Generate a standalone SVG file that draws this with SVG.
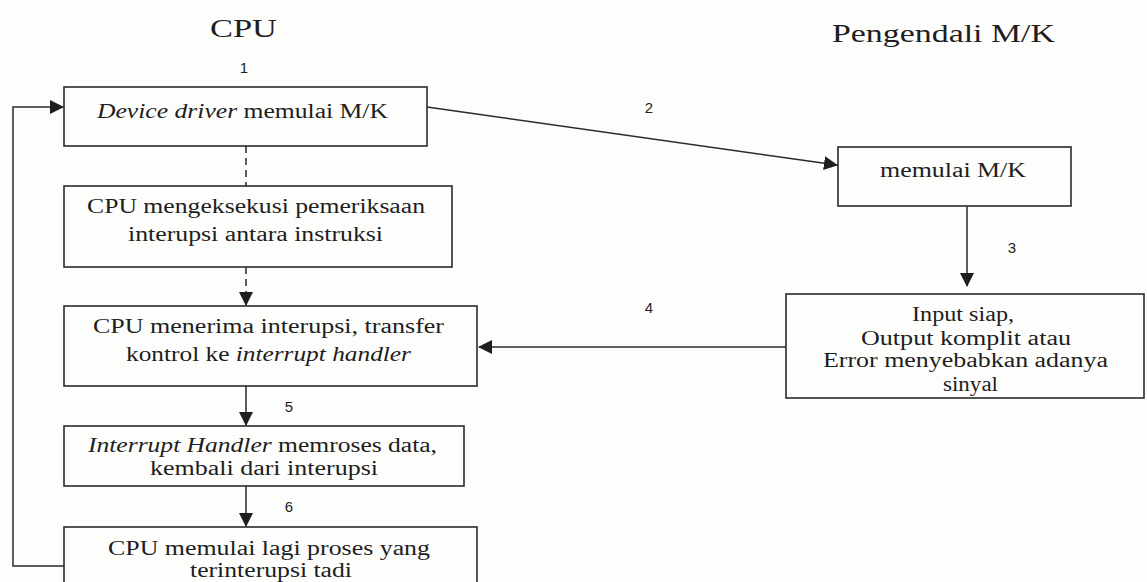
<svg xmlns="http://www.w3.org/2000/svg" width="1147" height="582" viewBox="0 0 1147 582">
<style>
.box{fill:none;stroke:#2a2a2a;stroke-width:1.6}
.ln{fill:none;stroke:#2a2a2a;stroke-width:1.5}
.dash{stroke-dasharray:7,5}
.t{font-family:"Liberation Serif","Times New Roman",serif;font-size:20px;fill:#1e1e1e}
.h{font-family:"Liberation Serif","Times New Roman",serif;font-size:25px;fill:#1e1e1e}
.n{font-family:"Liberation Sans",Arial,sans-serif;font-size:15px;fill:#1e1e1e}
.i{font-style:italic}
</style>
<defs>
<marker id="ah" markerWidth="14" markerHeight="14" viewBox="0 0 14 14" refX="13" refY="7" orient="auto" markerUnits="userSpaceOnUse">
<path d="M0,0 L14,7 L0,14 Z" fill="#1e1e1e"/>
</marker>
</defs>
<rect width="1147" height="582" fill="#fdfdfc"/>
<text class="h" x="210" y="37" textLength="67" lengthAdjust="spacingAndGlyphs">CPU</text>
<text class="h" x="832" y="42" textLength="223" lengthAdjust="spacingAndGlyphs">Pengendali M/K</text>
<g id="connectors">
<line class="ln dash" x1="246" y1="146" x2="246" y2="186"/>
<line class="ln dash" x1="246" y1="267" x2="246" y2="305" marker-end="url(#ah)"/>
<line class="ln" x1="246" y1="386" x2="246" y2="425" marker-end="url(#ah)"/>
<line class="ln" x1="246" y1="486" x2="246" y2="526" marker-end="url(#ah)"/>
<path class="ln" d="M64,566 H13 V107 H63" marker-end="url(#ah)"/>
<line class="ln" x1="427" y1="107" x2="837" y2="165" marker-end="url(#ah)"/>
<line class="ln" x1="967" y1="206" x2="967" y2="286" marker-end="url(#ah)"/>
<line class="ln" x1="786" y1="347" x2="479" y2="347" marker-end="url(#ah)"/>
<text class="n" x="244" y="73" text-anchor="middle">1</text>
<text class="n" x="649" y="113" text-anchor="middle">2</text>
<text class="n" x="1012" y="253" text-anchor="middle">3</text>
<text class="n" x="649" y="313" text-anchor="middle">4</text>
<text class="n" x="289" y="412" text-anchor="middle">5</text>
<text class="n" x="289" y="512" text-anchor="middle">6</text>
</g>
<g id="n1">
<rect class="box" x="64" y="87" width="363" height="59"/>
<text class="t" x="97" y="118" textLength="291" lengthAdjust="spacingAndGlyphs"><tspan class="i">Device driver</tspan> memulai M/K</text>
</g>
<g id="n2">
<rect class="box" x="64" y="186" width="388" height="81"/>
<text class="t" x="87" y="213" textLength="338" lengthAdjust="spacingAndGlyphs">CPU mengeksekusi pemeriksaan</text>
<text class="t" x="128" y="241" textLength="255" lengthAdjust="spacingAndGlyphs">interupsi antara instruksi</text>
</g>
<g id="n3">
<rect class="box" x="64" y="306" width="413" height="80"/>
<text class="t" x="93" y="333" textLength="351" lengthAdjust="spacingAndGlyphs">CPU menerima interupsi, transfer</text>
<text class="t" x="126" y="361" textLength="285" lengthAdjust="spacingAndGlyphs">kontrol ke <tspan class="i">interrupt handler</tspan></text>
</g>
<g id="n4">
<rect class="box" x="64" y="426" width="400" height="60"/>
<text class="t" x="88" y="452" textLength="349" lengthAdjust="spacingAndGlyphs"><tspan class="i">Interrupt Handler</tspan> memroses data,</text>
<text class="t" x="150" y="475" textLength="228" lengthAdjust="spacingAndGlyphs">kembali dari interupsi</text>
</g>
<g id="n5">
<rect class="box" x="64" y="527" width="413" height="70"/>
<text class="t" x="108" y="555" textLength="322" lengthAdjust="spacingAndGlyphs">CPU memulai lagi proses yang</text>
<text class="t" x="190" y="577" textLength="162" lengthAdjust="spacingAndGlyphs">terinterupsi tadi</text>
</g>
<g id="n6">
<rect class="box" x="838" y="147" width="233" height="59"/>
<text class="t" x="880" y="177" textLength="146" lengthAdjust="spacingAndGlyphs">memulai M/K</text>
</g>
<g id="n7">
<rect class="box" x="786" y="294" width="358" height="104"/>
<text class="t" x="912" y="321" textLength="102" lengthAdjust="spacingAndGlyphs">Input siap,</text>
<text class="t" x="861" y="345" textLength="210" lengthAdjust="spacingAndGlyphs">Output komplit atau</text>
<text class="t" x="823" y="367" textLength="285" lengthAdjust="spacingAndGlyphs">Error menyebabkan adanya</text>
<text class="t" x="943" y="391" textLength="55" lengthAdjust="spacingAndGlyphs">sinyal</text>
</g>
</svg>
